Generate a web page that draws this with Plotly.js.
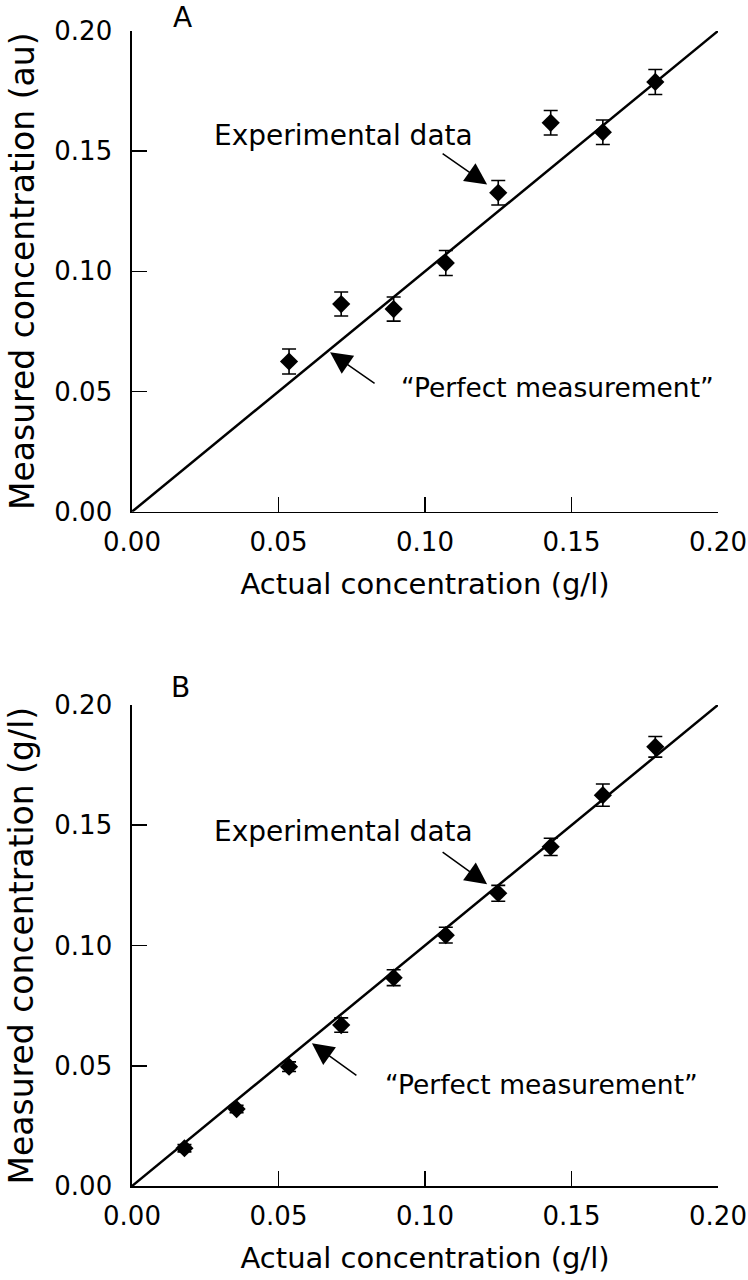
<!DOCTYPE html>
<html>
<head>
<meta charset="utf-8">
<script src="https://cdn.plot.ly/plotly-3.0.1.min.js"></script>
<style>html,body{margin:0;padding:0;background:#fff;}#chart{width:748px;height:1280px;}</style>
</head>
<body>
<div id="chart"></div>
<script>
// Panel A data
const xA = [0.0536, 0.0714, 0.0893, 0.1071, 0.1250, 0.1429, 0.1607, 0.1786];
const yA = [0.0625, 0.0864, 0.0843, 0.1035, 0.1327, 0.1618, 0.1579, 0.1788];
const errA = [0.0052, 0.0050, 0.0050, 0.0052, 0.0051, 0.0051, 0.0051, 0.0052];
// Panel B data
const xB = [0.0179, 0.0357, 0.0536, 0.0714, 0.0893, 0.1071, 0.1250, 0.1429, 0.1607, 0.1786];
const yB = [0.0157, 0.0320, 0.0496, 0.0669, 0.0866, 0.1043, 0.1217, 0.1410, 0.1625, 0.1826];
const errB = [0.0015, 0.0015, 0.0020, 0.0030, 0.0033, 0.0033, 0.0033, 0.0036, 0.0046, 0.0043];
// Identity line ("perfect measurement")
const lineX = [0, 0.2];
const lineY = [0, 0.2];
const tickVals = [0, 0.05, 0.10, 0.15, 0.20];
const tickText = ["0.00", "0.05", "0.10", "0.15", "0.20"];
const yTitleA = "Measured concentration (au)";
const yTitleB = "Measured concentration (g/l)";
const xTitle = "Actual concentration (g/l)";

const FONT = "DejaVu Sans, sans-serif";

function pts(x, y, e, xa, ya) {
  return {
    x: x, y: y, xaxis: xa, yaxis: ya, type: "scatter", mode: "markers",
    marker: {symbol: "diamond", size: 14, color: "#000"},
    error_y: {type: "data", array: e, visible: true, color: "#000", thickness: 1.6, width: 7},
    showlegend: false, hoverinfo: "x+y"
  };
}
function ident(xa, ya) {
  return {x: lineX, y: lineY, xaxis: xa, yaxis: ya, type: "scatter", mode: "lines",
    line: {color: "#000", width: 2.5}, showlegend: false, hoverinfo: "skip", cliponaxis: false};
}

const data = [ident("x", "y"), pts(xA, yA, errA, "x", "y"), ident("x2", "y2"), pts(xB, yB, errB, "x2", "y2")];

function xaxis(anchor) {
  return {
    anchor: anchor, domain: [0, 1], range: [0, 0.2], showgrid: false, zeroline: false,
    showline: true, linecolor: "#000", linewidth: 1.6, mirror: false,
    ticks: "inside", ticklen: 15, tickwidth: 1.6, tickcolor: "#000",
    tickmode: "array", tickvals: tickVals, ticktext: tickText, ticklabeloverflow: "allow",
    tickfont: {family: FONT, size: 26, color: "#000"}, ticklabelstandoff: 6,
    title: {text: xTitle, font: {family: FONT, size: 29, color: "#000"}, standoff: 18}
  };
}
function yaxis(anchor, dom) {
  return {
    anchor: anchor, domain: dom, range: [0, 0.2], showgrid: false, zeroline: false,
    showline: true, linecolor: "#000", linewidth: 1.6, mirror: false,
    ticks: "inside", ticklen: 15, tickwidth: 1.6, tickcolor: "#000",
    tickmode: "array", tickvals: tickVals, ticktext: tickText, ticklabeloverflow: "allow",
    tickfont: {family: FONT, size: 26, color: "#000"}, ticklabelstandoff: 13
  };
}

function arrow(xr, yr, x, y, ax, ay) {
  return {xref: xr, yref: yr, x: x, y: y, ax: ax, ay: ay, text: "", showarrow: true,
    arrowhead: 2, arrowsize: 2.9, arrowwidth: 1.5, arrowcolor: "#000", standoff: 0};
}
function label(xr, yr, x, y, t, size) {
  return {xref: xr, yref: yr, x: x, y: y, text: t, showarrow: false, xanchor: "center", yanchor: "middle",
    font: {family: FONT, size: size, color: "#000"}};
}
function ytitle(y, t) {
  return {xref: "paper", yref: "paper", x: -0.1877, y: y, text: t, textangle: -90, showarrow: false,
    xanchor: "center", yanchor: "middle", font: {family: FONT, size: 33, color: "#000"}};
}

const layout = {
  width: 748, height: 1280,
  margin: {l: 132, r: 30, t: 31, b: 94},
  paper_bgcolor: "#fff", plot_bgcolor: "#fff",
  showlegend: false,
  xaxis: xaxis("y"),
  yaxis: yaxis("x", [0.5838, 1]),
  xaxis2: xaxis("y2"),
  yaxis2: yaxis("x2", [0, 0.4165]),
  annotations: [
    ytitle(0.7922, yTitleA),
    ytitle(0.2082, yTitleB),
    arrow("x", "y", 0.1212, 0.1361, -46, -32),
    label("x", "y", 0.0722, 0.1567, "Experimental data", 28),
    arrow("x", "y", 0.0676, 0.0663, 46, 32),
    label("x", "y", 0.1453, 0.0515, "\u201cPerfect measurement\u201d", 26.5),
    arrow("x2", "y2", 0.1212, 0.1255, -46, -33),
    label("x2", "y2", 0.0722, 0.1473, "Experimental data", 28),
    arrow("x2", "y2", 0.0614, 0.0593, 46, 33),
    label("x2", "y2", 0.1397, 0.0420, "\u201cPerfect measurement\u201d", 26.5),
    {xref: "paper", yref: "paper", x: 0.0856, y: 1.0, text: "A", showarrow: false, xanchor: "center", yanchor: "middle", yshift: 14,
      font: {family: FONT, size: 28, color: "#000"}},
    {xref: "paper", yref: "paper", x: 0.0822, y: 0.4165, text: "B", showarrow: false, xanchor: "center", yanchor: "middle", yshift: 17,
      font: {family: FONT, size: 28, color: "#000"}}
  ]
};

Plotly.newPlot("chart", data, layout, {displayModeBar: false, staticPlot: true});
</script>
</body>
</html>
